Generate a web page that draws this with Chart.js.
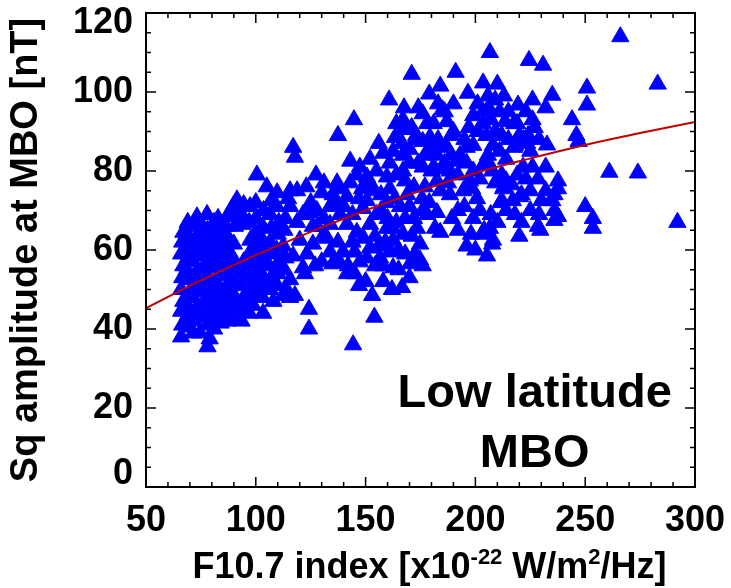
<!DOCTYPE html>
<html>
<head>
<title>Sq amplitude at MBO vs F10.7</title>
<script src="https://cdn.jsdelivr.net/npm/chart.js"></script>
<style>body{margin:0;background:#fff}</style>
</head>
<body>
<canvas id="sqChart" width="731" height="588"></canvas>
<script>
// axis settings
const xTicks = [50, 100, 150, 200, 250, 300];
const yTicks = [0, 20, 40, 60, 80, 100, 120];

// fitted curve
const fitX = [50, 75, 100, 125, 150, 175, 200, 225, 250, 275, 300];
const fitY = [45.3, 52.3, 58.7, 64.6, 70, 75, 79.5, 83.2, 86.6, 89.6, 92.4];

// [F10.7, Sq amplitude]
const lowSolar = [
  [66,38],[66.5,41],[66,44.5],[67,47],[66,50],[66.5,53],[67,56],[66,59],[66.5,62],[67,64.5],
  [68.7,40.5],[69,43.5],[68.5,46],[69.5,49],[69,52.5],[68.5,55],[69,58],[69.5,61],[68.5,64],[69,67],
  [71.5,39],[72,42],[72.5,45],[71.5,48],[72,51],[72.5,54],[71.5,57],[72,60],[72.5,63],[72,66],[73.2,68.4],
  [74.6,39],[75,43],[75.5,46],[74.5,49.5],[75,52],[75.5,55],[74.5,58.5],[75,61],[75.5,64],[75,66.5],
  [77.8,69],[78,35.5],[79,37.5],[78,41],[78.5,44],[77.5,47],[78,50],[78.5,53],[77.5,56],[78,59],[78.5,62],[78,65],
  [81,40],[81.5,43],[80.5,46],[81,49],[81.5,52],[80.5,55.5],[81,58],[81.5,61],[80.5,64],[81,67],
  [82.8,68],[84,41.5],[84.5,44],[83.5,47],[84,50],[84.5,53.5],[83.5,56],[84,59],[84.5,62],[83.5,65],
  [87,42],[87.5,45],[86.5,48],[87,51],[87.5,54],[86.5,57],[87,60],[87.5,63],[86.5,66],[87,68.5],
  [89.6,71],[90,43],[90.5,46],[89.5,49],[90,52],[90.5,55],[89.5,58],[90,61.5],[91.4,72.7],[90.5,66],[89.5,68.5],
  [93.5,42],[94,45],[94.5,48],[93.5,51],[94,54],[94.5,57],[94,66.5],[93.5,69],[94.5,71.5],
  [97,44],[97.4,71],[96.5,47],[97,50],[97.5,53],[96.5,56],[97,59],[97.5,62.5],[97,67],[98.7,46],
  [100,49],[100.5,52],[99.5,55],[100,58],[100.5,61],[99.5,64],[100,68],[100.5,79],[100,72],
  [103.3,44],[103,48],[103.5,51],[102.5,54],[103,57],[103.5,60],[102.5,63],[103,66],[103.5,70],[105,76],
  [106.5,50],[107,53],[106,56],[107,59],[106.5,62],[107,65.5],[106.5,69],[107,72.5],[108,47],
  [109.7,51],[110,54],[110.5,57],[109.5,60],[110,64],[110.5,67],[109.5,71],[109.7,74.5],
  [112.4,48.5],[114,50],[113,55],[113.5,58],[112.5,61],[113,65],[113.5,68],[114.7,73]
];

const midSolar = [
  [160.7,98],[167.5,96],[167,93],[167,90.5],[179,99.5],[176,94.5],[178,92],[173,89],[176,87.5],[185,95.5],[187,92.5],
  [144.7,93],[137.4,89],[117,86],[117.8,83.5],[171,104.5],
  [163.4,88.5],[166.6,87],[162.5,85],[167,84],[170,85.5],
  [173.4,88],[179.3,88.5],[183,88],[179.3,85.5],[182.5,84],[187,86],
  [158,84.5],[143,82.5],[147.4,81],[146,79],[150.6,78.5],[127.4,79],
  [155,80],[159.7,78.5],[164,79],[167,80],[168,77.5],
  [174,82],[176,81],[180,80],[186,80.5],[182.5,77.5],[187.5,77],
  [118.8,75],[123,76],[115.6,75],
  [130,74.5],[137,77],[138.3,75.5],[135,74],[141.5,73.5],
  [148.4,75.5],[153.4,75],[150.6,72.5],
  [161,75.5],[163.4,73],[159.7,72],[165.7,71],[170,71],
  [175.7,73],[178,69],[182.5,69.5],[181.6,65.5],
  [115.6,71],[121.5,69],[124.7,69.5],[127.8,70],[118.8,67],
  [133.8,71],[138.3,69],[141.5,66.5],[133.8,66.5],[130.6,63.5],
  [148.8,70.5],[155,69],[152,66.5],[146,64.5],[154.3,63.5],[159.7,65.5],
  [162.5,65.5],[162.5,62.5],[173.4,65.5],[171,63.5],[174.8,61.5],
  [120,62.5],[126,61.5],[123.3,59],[117,58.5],[121.5,55.5],
  [132.4,63],[133.8,59.5],[137.4,62],[139.7,59.5],[135,56.5],
  [145,59.5],[142,56],[147.4,57],[152,60.5],[150.6,58],
  [141.5,54],[156.6,58],[158,56],[161,59.5],[154.3,56],
  [172.5,59],[174.8,57.5],[176,56],[170.2,56.5],
  [162.5,55.5],[158,52],[166.6,50.5],[153,48.5],[154,43],
  [122.4,54],[115.6,52.5],[117.8,48.5],[115.6,48],[124.2,45],[124.2,40],[144.3,36],
  [128,66],[131,68],[136,72],[140,71],[144,69],[147,73],[152,77],[157,74],[157,70],[160,68],
  [164,67],[168,68],[172,68],[176,70],[179,72],[169,74],[172,76],[177,76],[156,61],[159,62],
  [165,60],[168,59],[167,64],[144,62],[149,63],[127,56],[130,57],[138,57],[145,54],[150,52],
  [147,51],[162,50],[170,53],[165,55],[126,66],[125,72],[131,77],[143,77],[152,83],[156,87],
  [161,82],[170,82],[177,84],[171,91],[164,92],[174,96],[181,92],[183,97],[189,89],[181,81],[189,84]
];

const highSolar = [
  [206.6,110],[224.4,108],[230.8,106.8],[191,105],[184,101.5],[196.6,99.7],[203.5,102.3],[190,97],[209,98],
  [205.7,99],[219.4,96.7],[235,99.2],[250.8,101],[250.8,96.7],[226,93],[244,93],[246,89],[247,87.5],
  [186,95],[203.5,95],[203.5,92],[201,90],[213.5,92.5],[219,92],[227,91],[224,89],[223.5,87],[218,86.5],
  [232.6,86.6],[208,86.5],[211,85],[199,86.5],[193,84],[184,86.5],[205.7,84],[203.5,81.5],[221.7,81],
  [191.6,82.5],[186,82],[188.4,80],[192,79],[199,80],[197.5,77.5],[198.5,75.5],[207.6,80],[212,79],
  [214,77.5],[212.6,75.5],[216.6,76.5],[228.5,78],[237.6,77.5],[237.6,75.5],[220.3,73.5],[230,72.5],
  [235,72.5],[236,70],[236,74],[194.5,75],[188.4,74],[184,75],[200.7,73],[212,72.5],[218,69],
  [250,71],[253.5,68],[253.5,65.5],[237.6,68.5],[228.5,66],[229.5,65],[189.3,68],[184,64.5],[198,64],
  [204,65],[206.6,65.5],[220,63.5],[207.6,61.5],[205.3,58.5],[208,62.5],[203,64],[217.6,92],[217.6,86],
  [236,67.5],[210,102],[211,95],[212,89],[209,90],[207,93],[215,88],[214,83],[222,88],[211.5,72],
  [217,72.5],[213,76],[221,74],[225,75],
  [195,88],[197,91],[199,94],[201,97],[205,89],[206,96],[213,99],[215,95],[220,89],[225,85],
  [229,88],[223,95],[196,82],[202,78],[206,82],[209,77],[219,79],[223,78],[226,81],[232,81],
  [195,71],[192,70],[199,68],[202,70],[207,69],[214,70],[225,70],[229,69],[192,65],[196,61],
  [200,60],[210,67],[221,67],[232,75],[226,98],[232,96],[196,86],[190,90],
  [266,114],[283,102],[292,67],[274,79.5],[261,79.7]
];

const FONT = "'Liberation Sans', Arial, sans-serif";
const toXY = arr => arr.map(p => ({x: p[0], y: p[1]}));
const sqPoints = toXY(lowSolar.concat(midSolar, highSolar));
const fitPoints = fitX.map((v, i) => ({x: v, y: fitY[i]}));

// frame, inward ticks, edge labels and texts
const framePlugin = {
  id: 'framePlugin',
  afterDatasetsDraw(chart) {
    const {ctx, chartArea: a, scales: {x, y}} = chart;
    ctx.save();
    ctx.strokeStyle = '#000';
    ctx.lineWidth = 1.5;
    ctx.beginPath();
    for (let v = xTicks[0]; v <= xTicks[xTicks.length - 1]; v += 10) {
      const px = x.getPixelForValue(v);
      const len = v % 50 === 0 ? 10 : 5;
      ctx.moveTo(px, a.bottom); ctx.lineTo(px, a.bottom - len);
      ctx.moveTo(px, a.top); ctx.lineTo(px, a.top + len);
    }
    for (let v = yTicks[0]; v <= yTicks[yTicks.length - 1]; v += 5) {
      const py = y.getPixelForValue(v);
      const len = v % 20 === 0 ? 10 : 5;
      ctx.moveTo(a.left, py); ctx.lineTo(a.left + len, py);
      ctx.moveTo(a.right, py); ctx.lineTo(a.right - len, py);
    }
    ctx.stroke();
    ctx.lineWidth = 2;
    ctx.strokeRect(a.left, a.top, a.right - a.left, a.bottom - a.top);

    ctx.fillStyle = '#000';
    // end labels of the y axis sit inside the range
    ctx.font = 'bold 36px ' + FONT;
    ctx.textAlign = 'right';
    ctx.textBaseline = 'middle';
    ctx.fillText('0', a.left - 13, y.getPixelForValue(0) - 13);
    ctx.fillText('120', a.left - 13, y.getPixelForValue(120) + 10);

    // station label
    ctx.font = 'bold 47px ' + FONT;
    ctx.textAlign = 'center';
    ctx.textBaseline = 'alphabetic';
    ctx.fillText('Low latitude', x.getPixelForValue(227), y.getPixelForValue(20.3));
    ctx.fillText('MBO', x.getPixelForValue(227), y.getPixelForValue(5.1));

    // x title with superscripts
    const parts = [
      ['F10.7 index [x10', false], ['-22', true], [' W/m', false], ['2', true], ['/Hz]', false]
    ];
    const mainFont = 'bold 36px ' + FONT, supFont = 'bold 22px ' + FONT;
    let total = 0;
    parts.forEach(p => { ctx.font = p[1] ? supFont : mainFont; total += ctx.measureText(p[0]).width; });
    let cx = (a.left + a.right) / 2 + 9 - total / 2;
    const base = 578;
    ctx.textAlign = 'left';
    parts.forEach(p => {
      ctx.font = p[1] ? supFont : mainFont;
      ctx.fillText(p[0], cx, p[1] ? base - 14 : base);
      cx += ctx.measureText(p[0]).width;
    });
    ctx.restore();
  }
};

new Chart(document.getElementById('sqChart'), {
  type: 'scatter',
  data: {
    datasets: [
      {
        type: 'line',
        data: fitPoints,
        borderColor: '#bf0000',
        borderWidth: 2,
        pointRadius: 0,
        tension: 0.4,
        fill: false,
        order: 0
      },
      {
        data: sqPoints,
        pointStyle: 'triangle',
        pointRadius: 10,
        pointHoverRadius: 10,
        backgroundColor: '#0000ff',
        borderColor: '#0000ff',
        borderWidth: 1,
        order: 1
      }
    ]
  },
  options: {
    responsive: false,
    animation: false,
    devicePixelRatio: 1,
    layout: {padding: {left: 0, right: 36, top: 13, bottom: 0}},
    plugins: {legend: {display: false}, tooltip: {enabled: false}},
    scales: {
      x: {
        type: 'linear',
        min: xTicks[0],
        max: xTicks[xTicks.length - 1],
        afterBuildTicks: s => { s.ticks = xTicks.map(v => ({value: v})); },
        afterFit: s => { s.height = 101; s.paddingLeft = 0; s.paddingRight = 0; },
        grid: {display: false, drawTicks: false},
        border: {display: false},
        ticks: {color: '#000', padding: 12, maxRotation: 0, font: {family: FONT, size: 36, weight: 'bold'}}
      },
      y: {
        min: yTicks[0],
        max: yTicks[yTicks.length - 1],
        afterBuildTicks: s => { s.ticks = yTicks.map(v => ({value: v})); },
        afterFit: s => { s.width = 146; s.paddingTop = 0; s.paddingBottom = 0; },
        grid: {display: false, drawTicks: false},
        border: {display: false},
        ticks: {
          color: '#000', padding: 13,
          font: {family: FONT, size: 36, weight: 'bold'},
          callback: v => (v === yTicks[0] || v === yTicks[yTicks.length - 1]) ? '' : v
        },
        title: {
          display: true,
          text: 'Sq amplitude at MBO [nT]',
          color: '#000',
          padding: {top: 4, bottom: 0},
          font: {family: FONT, size: 38, weight: 'bold'}
        }
      }
    }
  },
  plugins: [framePlugin]
});
</script>
</body>
</html>
